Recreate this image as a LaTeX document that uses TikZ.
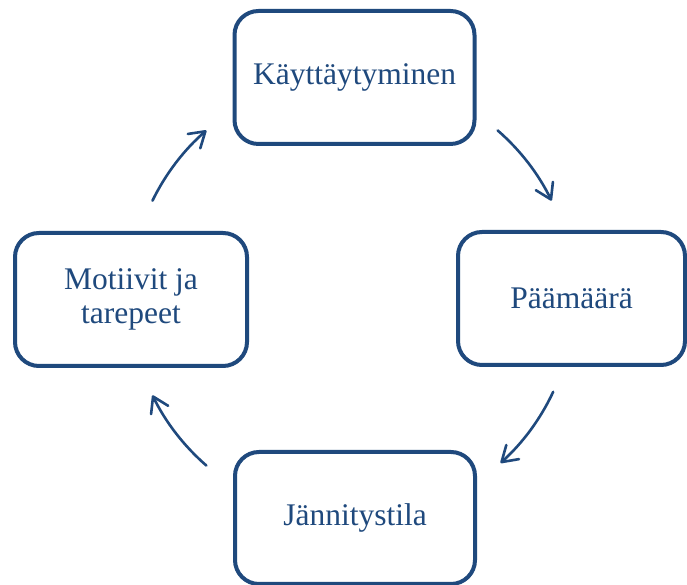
\documentclass[tikz,border=0pt]{standalone}
\usepackage{fontspec}
\setmainfont{Liberation Serif}
\usetikzlibrary{arrows.meta}
\definecolor{dkblue}{RGB}{31,73,125}
\tikzset{
  box/.style={draw=dkblue, line width=4pt, rounded corners=24pt, fill=white,
    inner sep=0pt, minimum height=133pt, text=dkblue,
    font=\fontsize{31.5}{34}\selectfont, align=center},
  cyc/.style={draw=dkblue, line width=2.6pt, line cap=round,
    -{Straight Barb[length=15pt, width=19pt, line width=2.6pt, round]}}
}
\begin{document}
\begin{tikzpicture}[x=1pt,y=1pt]
\useasboundingbox (0,0) rectangle (687,585);
\fill[white] (0,0) rectangle (687,585);
\node[box, minimum width=240pt] (top) at (354.5,507.5) {Käyttäytyminen};
\node[box, minimum width=227pt] (right) at (571.5,286.5) {Päämäärä};
\node[box, minimum width=240pt, minimum height=132pt] (bottom) at (355,67) {Jännitystila};
\node[box, minimum width=232pt] (left) at (131,285.5) {Motiivit ja\\tarepeet};
\coordinate (c) at (352,287);
\draw[cyc] ([shift={(49:222)}]c) arc[start angle=49, end angle=26, radius=222];
\draw[cyc] ([shift={(-25:222)}]c) arc[start angle=-25, end angle=-48, radius=222];
\draw[cyc] ([shift={(-131:222)}]c) arc[start angle=-131, end angle=-154, radius=222];
\draw[cyc] ([shift={(154:222)}]c) arc[start angle=154, end angle=131, radius=222];
\end{tikzpicture}
\end{document}
